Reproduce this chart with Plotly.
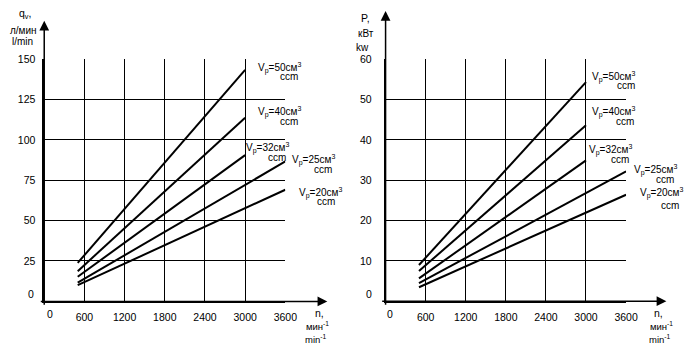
import plotly.graph_objects as go

# ---- data ----
n_points = {"50": [500, 3000], "40": [500, 3000], "32": [500, 3000], "25": [500, 3600], "20": [500, 3600]}
q_flow = {"50": [23.8, 143.3], "40": [18.7, 113.7], "32": [15.2, 90.5], "25": [11.6, 86.6], "20": [10.0, 69.1]}
p_power = {"50": [9.0, 54.3], "40": [7.5, 43.6], "32": [5.7, 34.9], "25": [4.5, 32.2], "20": [3.5, 26.4]}
x_ticks = [0, 600, 1200, 1800, 2400, 3000, 3600]
x_ticktext = ["", "600", "1200", "1800", "2400", "3000", "3600"]
q_ticks = [0, 25, 50, 75, 100, 125, 150]
q_ticktext = ["", "25", "50", "75", "100", "125", "150"]
p_ticks = [0, 10, 20, 30, 40, 50, 60]
p_ticktext = ["", "10", "20", "30", "40", "50", "60"]

FONT = "Liberation Sans, Arial, sans-serif"
W, H = 700, 350


def px(x):
    return x / W


def py(y):
    return 1 - y / H


fig = go.Figure()
for k in ["50", "40", "32", "25", "20"]:
    fig.add_trace(go.Scatter(x=n_points[k], y=q_flow[k], mode="lines",
                             line=dict(color="black", width=2), xaxis="x", yaxis="y", showlegend=False))
    fig.add_trace(go.Scatter(x=n_points[k], y=p_power[k], mode="lines",
                             line=dict(color="black", width=2), xaxis="x2", yaxis="y2", showlegend=False))

ydom = [py(300.5), py(54)]
axis_common = dict(showgrid=True, gridcolor="black", gridwidth=1.3, showline=True, linecolor="black",
                   linewidth=1.5, mirror=False, zeroline=False, ticks="outside", ticklen=0,
                   tickfont=dict(family=FONT, size=10.5, color="black"), fixedrange=True)

fig.update_layout(
    width=W, height=H, margin=dict(l=0, r=0, t=0, b=0),
    paper_bgcolor="white", plot_bgcolor="white",
    xaxis=dict(domain=[px(45), px(290.3)], range=[0, 3600], tickvals=x_ticks, ticktext=x_ticktext,
               anchor="y", ticklabelstandoff=5, **axis_common),
    yaxis=dict(domain=ydom, range=[0, 150], tickvals=q_ticks, ticktext=q_ticktext,
               anchor="x", ticklabelstandoff=5, **axis_common),
    xaxis2=dict(domain=[px(392.3), px(637)], range=[0, 3600], tickvals=x_ticks, ticktext=x_ticktext,
                anchor="y2", ticklabelstandoff=5, **axis_common),
    yaxis2=dict(domain=ydom, range=[0, 60], tickvals=p_ticks, ticktext=p_ticktext,
                anchor="x2", ticklabelstandoff=10, **axis_common),
    font=dict(family=FONT, size=10.5, color="black"),
)

ann = []


def text(x, y, t, xanchor="center", size=10.5):
    ann.append(dict(x=px(x), y=py(y), xref="paper", yref="paper", text=t, showarrow=False,
                    xanchor=xanchor, yanchor="middle", font=dict(family=FONT, size=size, color="black")))


def arrow(x0, y0, x1, y1):
    ann.append(dict(x=px(x1), y=py(y1), xref="paper", yref="paper", axref="pixel", ayref="pixel",
                    ax=x0 - x1, ay=y0 - y1, text="", showarrow=True, arrowhead=2, arrowsize=1.3,
                    arrowwidth=1.5, arrowcolor="black"))


# axis arrows
arrow(45, 300.6, 333, 300.6)
arrow(45, 300.6, 45, 15)
arrow(392.3, 300.3, 678, 300.3)
arrow(392.3, 300.3, 392.3, 5)

# zero labels
text(51, 313, "0")
text(32, 293, "0")
text(397, 313, "0")
text(375, 293, "0")

# axis titles
text(25, 8, "q<sub>v</sub>,")
text(24, 25, "л/мин", size=10)
text(23, 36, "l/min", size=10)
text(325, 312, "n,")
text(323, 326, "мин<sup>-1</sup>", size=9.5)
text(322, 339, "min<sup>-1</sup>", size=9.5)

text(372, 12, "P,")
text(372, 28, "кВт", size=10)
text(369, 42, "kw", size=10)
text(670, 312, "n,")
text(673, 326, "мин<sup>-1</sup>", size=9.5)
text(672, 339, "min<sup>-1</sup>", size=9.5)

# curve labels
left_lab = [("50", 260, 63, 305, 72), ("40", 260, 108, 305, 118), ("32", 248, 144, 293, 154),
            ("25", 295, 157, 340, 166), ("20", 302, 190, 343, 199)]
right_lab = [("50", 600, 72, 648, 81), ("40", 600, 108, 647, 118), ("32", 597, 147, 642, 156),
             ("25", 643, 167, 688, 177), ("20", 649, 190, 693, 203)]
for k, x0, y0, x1, y1 in left_lab + right_lab:
    text(x0, y0, "V<sub>p</sub>=" + k + "см<sup>3</sup>", xanchor="left", size=10)
    text(x1, y1, "ccm", xanchor="right", size=10)

fig.update_layout(annotations=ann)
fig.write_html("out.html")
